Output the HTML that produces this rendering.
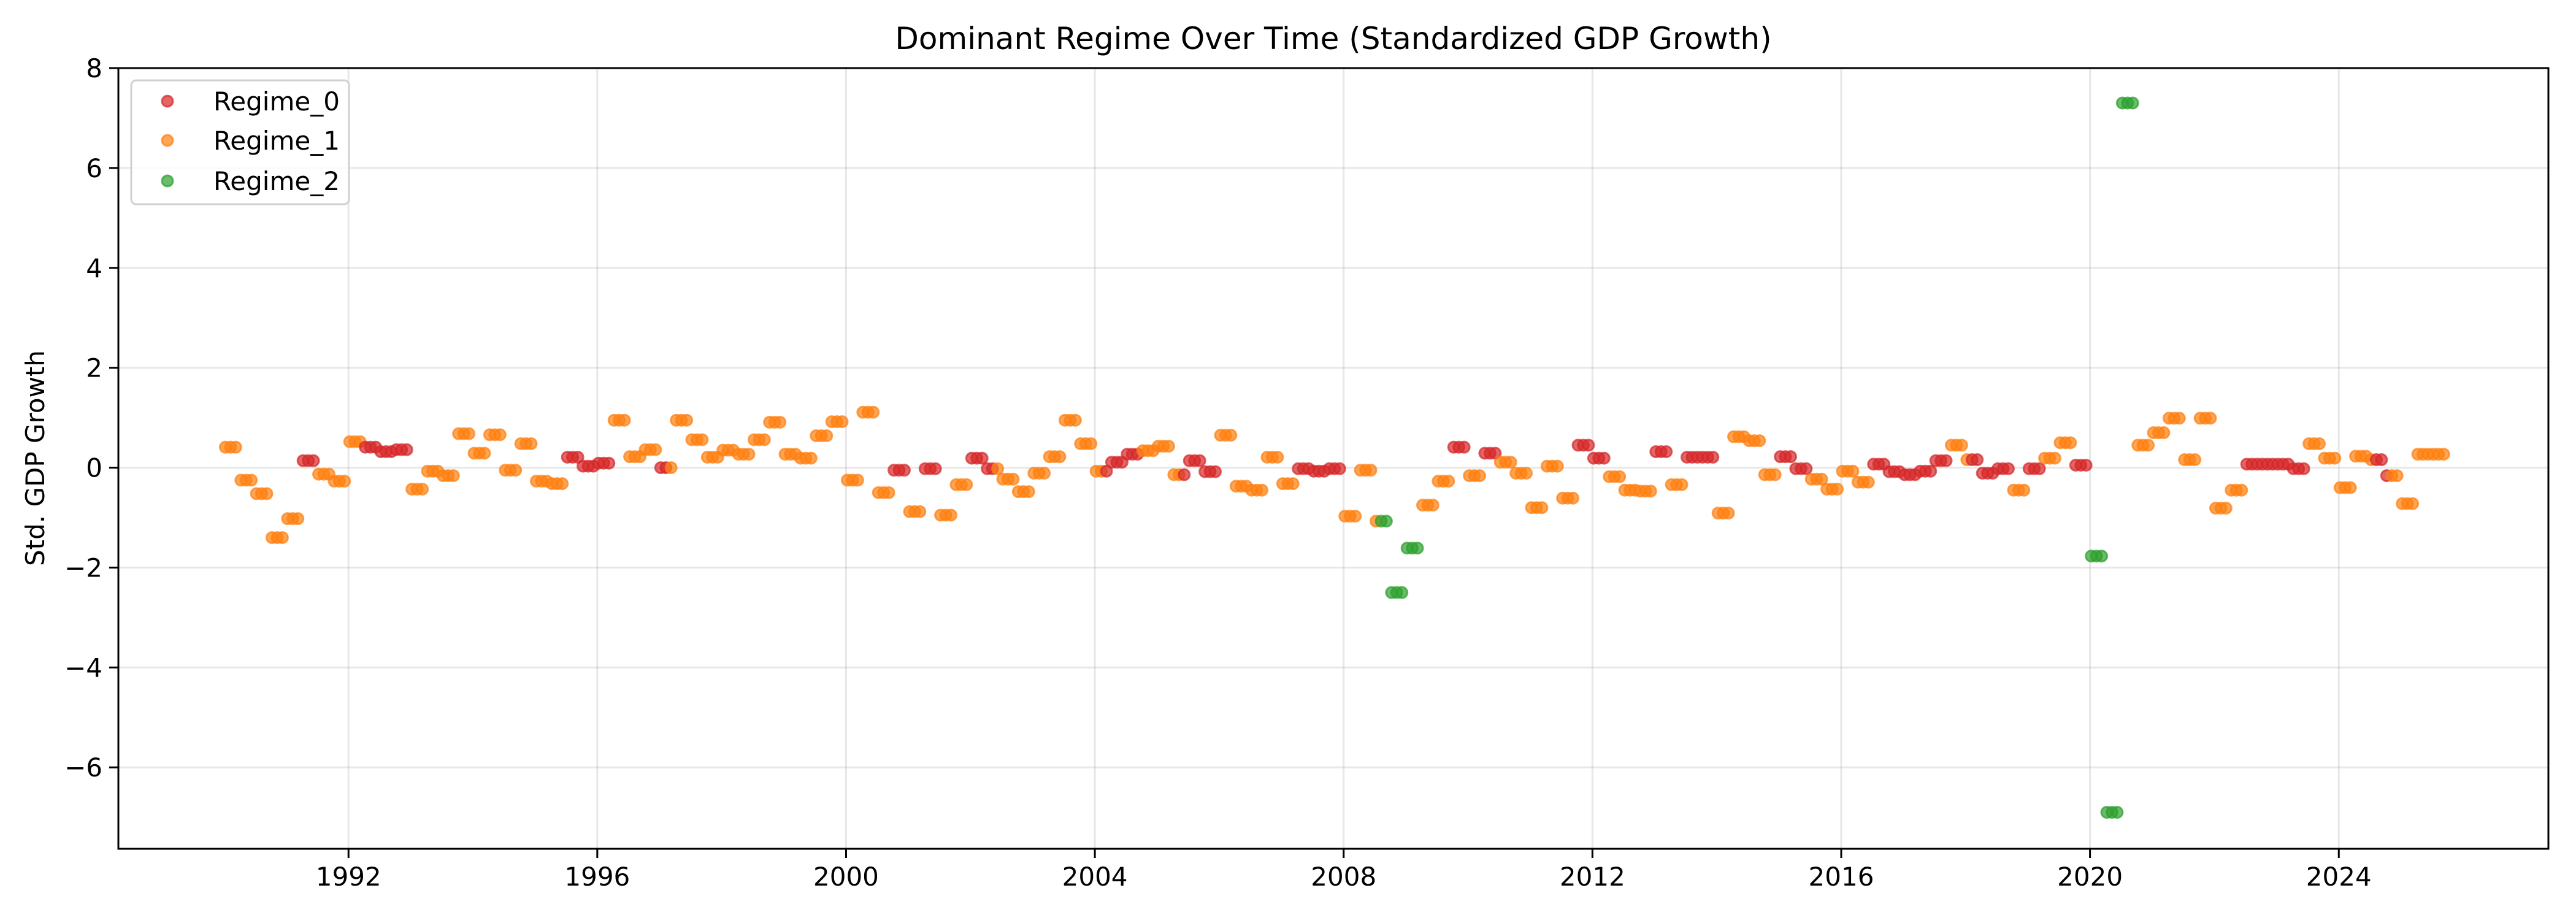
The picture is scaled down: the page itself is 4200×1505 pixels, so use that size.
<!DOCTYPE html>
<html><head><meta charset="utf-8"><style>
html,body{margin:0;padding:0;background:#fff;}
svg text{font-family:"DejaVu Sans","Liberation Sans",sans-serif;fill:#000;}
</style></head><body>
<svg id="chart" width="4200" height="1500" viewBox="0 0 4200 1500" xmlns="http://www.w3.org/2000/svg">
<rect x="0" y="0" width="4200" height="1500" fill="#fff"/>
<text x="2174" y="80" font-size="50" text-anchor="middle">Dominant Regime Over Time (Standardized GDP Growth)</text>
<g id="grid"></g>
<g id="points"></g>
<g id="axes"></g>
<text transform="translate(72,747) rotate(-90)" font-size="42" text-anchor="middle">Std. GDP Growth</text>
<g>
<rect x="214" y="131" width="355" height="202" rx="8" fill="#fff" fill-opacity="0.8" stroke="#d0d0d0" stroke-width="3"/>
<g><circle cx="273" cy="165" r="9" fill="#d62728" fill-opacity="0.7" stroke="#d62728" stroke-opacity="0.7" stroke-width="3"/><text x="348" y="180" font-size="42">Regime_0</text></g>
<g><circle cx="273" cy="229" r="9" fill="#ff7f0e" fill-opacity="0.7" stroke="#ff7f0e" stroke-opacity="0.7" stroke-width="3"/><text x="348" y="244" font-size="42">Regime_1</text></g>
<g><circle cx="273" cy="295" r="9" fill="#2ca02c" fill-opacity="0.7" stroke="#2ca02c" stroke-opacity="0.7" stroke-width="3"/><text x="348" y="310" font-size="42">Regime_2</text></g>
</g>
</svg>
<script>
// quarterly standardized GDP growth, starting 1990 Q1
const values = [0.41,-0.25,-0.52,-1.40,-1.02,0.14,-0.13,-0.27,0.52,0.41,0.32,0.36,-0.43,-0.07,-0.16,0.68,0.29,0.66,-0.05,0.48,
-0.27,-0.32,0.21,0.03,0.09,0.95,0.22,0.36,0.0,0.95,0.56,0.21,0.35,0.27,0.56,0.91,0.27,0.19,0.64,0.92,
-0.25,1.11,-0.50,-0.05,-0.88,-0.02,-0.95,-0.34,0.19,-0.02,-0.23,-0.48,-0.11,0.22,0.95,0.48,-0.07,0.11,0.27,0.34,
0.43,-0.14,0.14,-0.08,0.65,-0.37,-0.45,0.21,-0.32,-0.02,-0.07,-0.02,-0.97,-0.05,-1.07,-2.50,-1.61,-0.75,-0.27,0.41,
-0.16,0.29,0.11,-0.11,-0.80,0.03,-0.61,0.45,0.19,-0.18,-0.45,-0.47,0.32,-0.34,0.21,0.21,-0.91,0.62,0.54,-0.14,
0.22,-0.02,-0.23,-0.43,-0.07,-0.29,0.07,-0.08,-0.14,-0.07,0.14,0.45,0.16,-0.11,-0.02,-0.45,-0.02,0.19,0.50,0.05,
-1.77,-6.90,7.30,0.45,0.70,0.99,0.16,0.99,-0.81,-0.45,0.07,0.07,0.07,-0.02,0.48,0.19,-0.40,0.23,0.16,-0.16,
-0.72,0.27,0.27];
// dominant regime for each month of each quarter
const regimes = ["111","111","111","111","111","000","111","111","111","000","000","000","111","111","111","111","111","111","111","111",
"111","111","000","000","000","111","111","111","001","111","111","111","111","111","111","111","111","111","111","111",
"111","111","111","000","111","000","111","111","000","001","111","111","111","111","111","111","110","000","000","111",
"111","110","000","000","111","111","111","111","111","000","000","000","111","111","122","222","222","111","111","000",
"111","000","111","111","111","111","111","000","000","111","111","111","000","111","000","000","111","111","111","111",
"000","000","111","111","111","111","000","000","000","000","000","111","100","000","000","111","000","111","111","000",
"222","222","222","111","111","111","111","111","111","111","000","000","000","000","111","111","111","111","100","011",
"111","111","111"];
const xTicks = [1992,1996,2000,2004,2008,2012,2016,2020,2024];
const yTicks = [-6,-4,-2,0,2,4,6,8];
const colors = ["#d62728","#ff7f0e","#2ca02c"];
const startYear = 1990;

const L=193,R=4155,T=111,B=1384;
const x0=1988.30,x1=2027.37,yMin=-7.63,yMax=8;
function xs(v){return L+(v-x0)/(x1-x0)*(R-L);}
function ys(v){return B-(v-yMin)/(yMax-yMin)*(B-T);}
const NS="http://www.w3.org/2000/svg";
function mk(tag,attrs,parent){const e=document.createElementNS(NS,tag);for(const k in attrs)e.setAttribute(k,attrs[k]);parent.appendChild(e);return e;}
const grid=document.getElementById('grid'),axes=document.getElementById('axes'),pts=document.getElementById('points');
xTicks.forEach(t=>{
  const g=mk('line',{x1:xs(t),x2:xs(t),y1:T,y2:B,stroke:'#b0b0b0','stroke-opacity':0.3,'stroke-width':3},grid);
  
  
  const tk=mk('line',{x1:xs(t),x2:xs(t),y1:B,y2:B+15,stroke:'#000','stroke-width':3},axes);
  
  
  const tx=mk('text',{x:xs(t),y:B+60,'font-size':42,'text-anchor':'middle'},axes);
  tx.textContent=t;
  
  
});
yTicks.forEach(t=>{
  const g=mk('line',{x1:L,x2:R,y1:ys(t),y2:ys(t),stroke:'#b0b0b0','stroke-opacity':0.3,'stroke-width':3},grid);
  
  
  const tk=mk('line',{x1:L-15,x2:L,y1:ys(t),y2:ys(t),stroke:'#000','stroke-width':3},axes);
  
  
  const tx=mk('text',{x:L-26,y:ys(t)+15,'font-size':42,'text-anchor':'end'},axes);
  tx.textContent=(t<0?'\u2212'+Math.abs(t):t);
  
  
});
const frame=mk('rect',{x:L,y:T,width:R-L,height:B-T,fill:'none',stroke:'#000','stroke-width':3},axes);


values.forEach((v,q)=>{
  for(let m=0;m<3;m++){
    const yr=startYear+q*0.25+m/12+0.02;
    const r=+regimes[q][m];
    const c=mk('circle',{cx:xs(yr),cy:ys(v),r:9,fill:colors[r],'fill-opacity':0.7,stroke:colors[r],'stroke-opacity':0.7,'stroke-width':3},pts);
    
    
  }
});
</script>
</body></html>
